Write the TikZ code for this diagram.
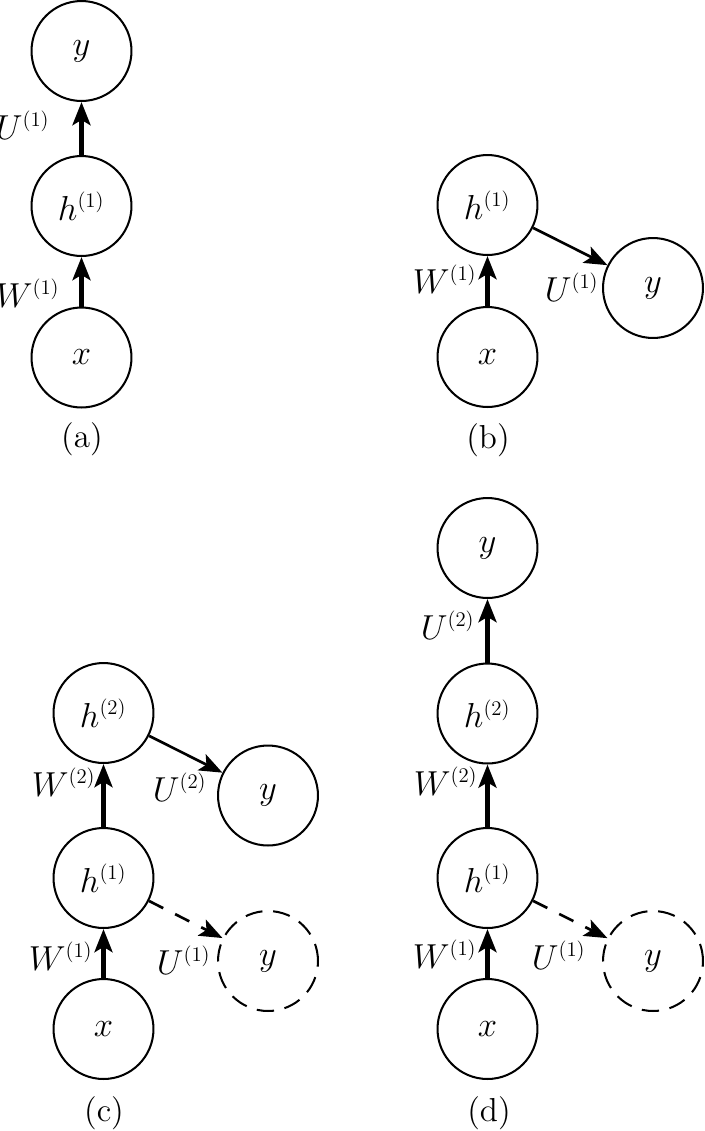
\documentclass[tikz,border=0pt]{standalone}
\usepackage{graphicx}
\usetikzlibrary{arrows.meta}
\newcommand{\sps}[1]{\scalebox{0.6}{$(#1)$}}
\begin{document}
\begin{tikzpicture}[x=0.34615pt,y=-0.34615pt,
  neuron/.style={circle, draw, line width=0.7pt, minimum size=34.6pt, inner sep=0pt, font=\fontsize{12}{14}\selectfont},
  ghost/.style={neuron, dash pattern=on 6pt off 3.7pt},
  vert/.style={line width=1.48pt, -{Stealth[length=8pt,width=6.2pt,inset=1.8pt]}},
  diag/.style={line width=0.92pt, -{Stealth[length=8pt,width=6.2pt,inset=1.8pt]}},
  diagd/.style={diag, dash pattern=on 5.5pt off 4.6pt},
  lab/.style={font=\fontsize{12}{14}\selectfont, inner sep=0pt},
  subcap/.style={font=\fontsize{11.5}{14}\selectfont, inner sep=0pt}]
\useasboundingbox (0,0) rectangle (704,1131);

% (a)
\node[neuron] (ya) at (81.5,51) {$y$};
\node[neuron] (ha) at (81.5,206) {$h^{\sps{1}}$};
\node[neuron] (xa) at (81.5,357.5) {$x$};
\draw[vert] (ha) -- (ya);
\draw[vert] (xa) -- (ha);
\node[lab] (ua) at (23,125) {$U^{\sps{1}}$};
\node[lab] (wa) at (28,293) {$W^{\sps{1}}$};
\node[subcap] (capa) at (82,439.5) {(a)};

% (b)
\node[neuron] (hb) at (487.5,205) {$h^{\sps{1}}$};
\node[neuron] (xb) at (487.5,357) {$x$};
\node[neuron] (yb) at (653,288) {$y$};
\draw[vert] (xb) -- (hb);
\draw[diag] (hb) -- (yb);
\node[lab] (wb) at (445,279) {$W^{\sps{1}}$};
\node[lab] (ub) at (572,287) {$U^{\sps{1}}$};
\node[subcap] (capb) at (488,440) {(b)};

% (c)
\node[neuron] (h2c) at (103.5,713) {$h^{\sps{2}}$};
\node[neuron] (h1c) at (103.5,878) {$h^{\sps{1}}$};
\node[neuron] (xc) at (103.5,1029) {$x$};
\node[neuron] (yc) at (268,795.5) {$y$};
\node[ghost] (ycd) at (268,961) {$y$};
\draw[vert] (h1c) -- (h2c);
\draw[vert] (xc) -- (h1c);
\draw[diag] (h2c) -- (yc);
\draw[diagd] (h1c) -- (ycd);
\node[lab] (w2c) at (64,782) {$W^{\sps{2}}$};
\node[lab] (u2c) at (180,787) {$U^{\sps{2}}$};
\node[lab] (w1c) at (61,956) {$W^{\sps{1}}$};
\node[lab] (u1c) at (184,960) {$U^{\sps{1}}$};
\node[subcap] (capc) at (104,1113) {(c)};

% (d)
\node[neuron] (yd) at (487.5,548) {$y$};
\node[neuron] (h2d) at (487.5,713.5) {$h^{\sps{2}}$};
\node[neuron] (h1d) at (487.5,878) {$h^{\sps{1}}$};
\node[neuron] (xd) at (487.5,1029) {$x$};
\node[ghost] (ydd) at (653,961) {$y$};
\draw[vert] (h2d) -- (yd);
\draw[vert] (h1d) -- (h2d);
\draw[vert] (xd) -- (h1d);
\draw[diagd] (h1d) -- (ydd);
\node[lab] (u2d) at (448,625) {$U^{\sps{2}}$};
\node[lab] (w2d) at (446,781) {$W^{\sps{2}}$};
\node[lab] (w1d) at (445,954) {$W^{\sps{1}}$};
\node[lab] (u1d) at (559,955) {$U^{\sps{1}}$};
\node[subcap] (capd) at (489,1113) {(d)};
\end{tikzpicture}
\end{document}
